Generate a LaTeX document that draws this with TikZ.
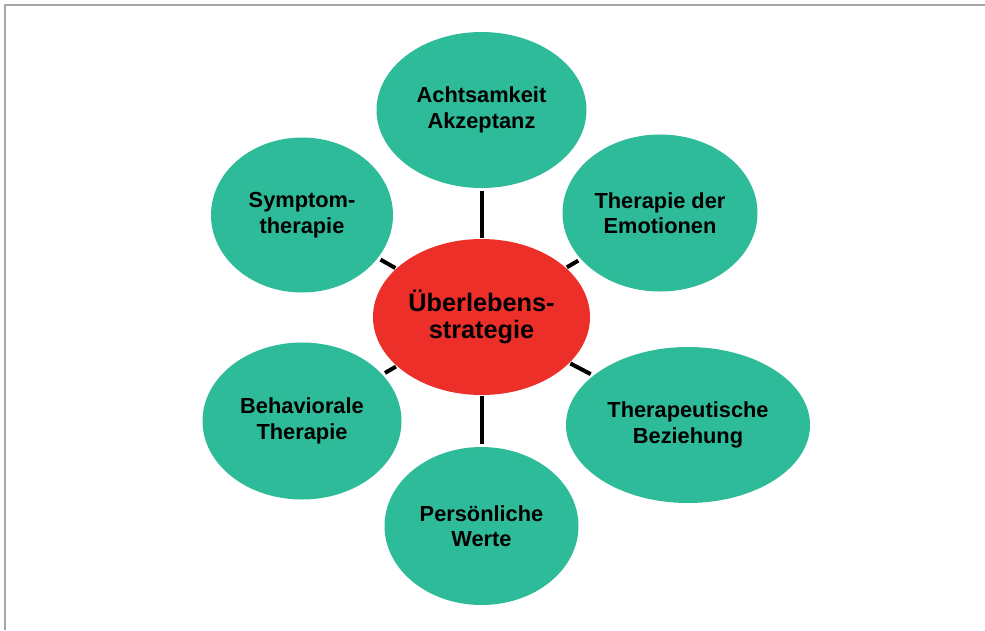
\documentclass[tikz,border=0pt]{standalone}
\usepackage{fontspec}
\setmainfont{Liberation Sans}
\usetikzlibrary{shapes.geometric}
\definecolor{leaf}{RGB}{46,187,153}
\definecolor{core}{RGB}{237,47,42}
\definecolor{frame}{RGB}{166,166,166}
\begin{document}
\begin{tikzpicture}[x=1pt,y=-1pt,
  bubble/.style={ellipse, fill=leaf, draw=none, inner sep=0pt, align=center,
    font=\fontsize{21.8}{25.5}\selectfont\bfseries},
  hub/.style={ellipse, fill=core, draw=none, inner sep=0pt, align=center,
    font=\fontsize{25.3}{27.5}\selectfont\bfseries},
  link/.style={line width=4pt, black, shorten <=1pt, shorten >=3pt}]
\useasboundingbox (0,0) rectangle (985,630);
\draw[frame, line width=2pt] (5,630) -- (5,5) -- (985,5);
\node[hub, minimum width=217pt, minimum height=156pt] (c) at (481.5,317) {Überlebens-\\strategie};
\node[bubble, minimum width=210pt, minimum height=156pt] (t) at (481.5,110) {Achtsamkeit\\Akzeptanz};
\node[bubble, minimum width=195pt, minimum height=157pt] (tr) at (660,213) {Therapie der\\Emotionen};
\node[bubble, minimum width=244pt, minimum height=156pt] (br) at (688,425) {Therapeutische\\Beziehung};
\node[bubble, minimum width=194pt, minimum height=158pt] (b) at (481.5,526) {Persönliche\\Werte};
\node[bubble, minimum width=199pt, minimum height=157pt] (bl) at (302,421) {Behaviorale\\Therapie};
\node[bubble, minimum width=182pt, minimum height=155pt] (tl) at (302,215) {Symptom-\\therapie};
\foreach \n in {t,tr,br,b,bl,tl} \draw[link] (c) -- (\n);
\end{tikzpicture}
\end{document}
